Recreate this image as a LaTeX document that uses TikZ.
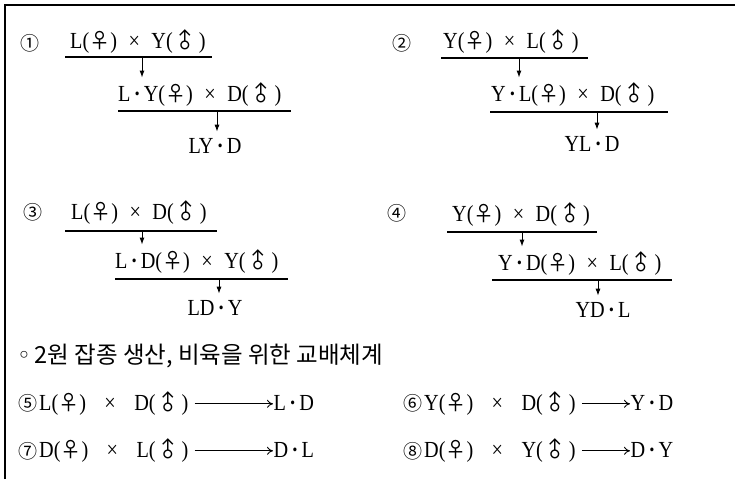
\documentclass[tikz,border=0pt]{standalone}
\usepackage{fontspec}
\setmainfont[FakeStretch=0.88]{Liberation Serif}
\newfontfamily\cjk{Noto Sans CJK KR}
\newfontfamily\symfont{DejaVu Sans}
\usetikzlibrary{arrows.meta,positioning}
\newcommand{\Fem}{{\cjk\fontsize{21}{25}\selectfont ♀}}
\newcommand{\Mal}{\makebox[26pt]{\smash{\rotatebox[origin=c]{45}{\cjk\fontsize{21}{25}\selectfont ♂}}}}
\newcommand{\mdot}{\hspace{.14em}\textbf{·}\hspace{.14em}}
\newcommand{\crs}{\hspace{.5em}×\hspace{.5em}}
\newcommand{\rowcrs}{\hspace{.8em}×\hspace{.8em}}

\begin{document}
\begin{tikzpicture}[x=1pt,y=-1pt,
    txt/.style={inner sep=1pt,anchor=base west,font=\fontsize{23}{27}\selectfont},
    res/.style={inner sep=1pt,anchor=base,font=\fontsize{23}{27}\selectfont},
    num/.style={inner sep=0pt,font=\cjk\fontsize{19}{22}\selectfont},
    bar/.style={line width=1.3pt},
    down/.style={-{Latex[length=7pt,width=5pt]},line width=1pt,shorten >=5pt},
    side/.style={-{To[length=6pt,width=8pt]},line width=0.9pt,shorten <=5pt}]
    \useasboundingbox (0,0) rectangle (735,479);
    \draw[line width=1.6pt] (5,479) -- (5,5) -- (735,5);
    % block 1
    \node[num] (n1) at (30,43) {①};
    \node[txt] (p1a) at (69,48) {L(\Fem)\crs Y(\Mal)};
    \draw[bar] (65,57) -- (212,57);
    \coordinate (a1) at (142,57);
    \node[txt] (p1b) at (117,101) {L\mdot Y(\Fem)\crs D(\Mal)};
    \draw[bar] (118,111) -- (291,111);
    \coordinate (b1) at (217,111);
    \node[res] (p1c) at (215,153) {LY\mdot D};
    \draw[down] (a1) -- (a1 |- p1b.north);
    \draw[down] (b1) -- (b1 |- p1c.north);
    % block 2
    \node[num] (n2) at (402,43) {②};
    \node[txt] (p2a) at (442,48) {Y(\Fem)\crs L(\Mal)};
    \draw[bar] (441,58) -- (588,58);
    \coordinate (a2) at (519,58);
    \node[txt] (p2b) at (490,101) {Y\mdot L(\Fem)\crs D(\Mal)};
    \draw[bar] (490,112) -- (668,112);
    \coordinate (b2) at (597,112);
    \node[res] (p2c) at (592,151) {YL\mdot D};
    \draw[down] (a2) -- (a2 |- p2b.north);
    \draw[down] (b2) -- (b2 |- p2c.north);
    % block 3
    \node[num] (n3) at (33,212) {③};
    \node[txt] (p3a) at (70,219) {L(\Fem)\crs D(\Mal)};
    \draw[bar] (65,231) -- (217,231);
    \coordinate (a3) at (142,231);
    \node[txt] (p3b) at (114,268) {L\mdot D(\Fem)\crs Y(\Mal)};
    \draw[bar] (115,279) -- (288,279);
    \coordinate (b3) at (219,279);
    \node[res] (p3c) at (215,315) {LD\mdot Y};
    \draw[down] (a3) -- (a3 |- p3b.north);
    \draw[down] (b3) -- (b3 |- p3c.north);
    % block 4
    \node[num] (n4) at (397,213) {④};
    \node[txt] (p4a) at (451,221) {Y(\Fem)\crs D(\Mal)};
    \draw[bar] (447,232) -- (597,232);
    \coordinate (a4) at (522,232);
    \node[txt] (p4b) at (497,270) {Y\mdot D(\Fem)\crs L(\Mal)};
    \draw[bar] (492,280) -- (672,280);
    \coordinate (b4) at (598,280);
    \node[res] (p4c) at (603,317) {YD\mdot L};
    \draw[down] (a4) -- (a4 |- p4b.north);
    \draw[down] (b4) -- (b4 |- p4c.north);
    % crosses for two-way hybrids
    \node[anchor=base west,inner sep=0pt,font=\cjk\fontsize{23.5}{27}\selectfont] (head) at (17,363)
      {{\symfont ◦}\hspace{.15em}2원 잡종 생산, 비육을 위한 교배체계};
    \node[num] (n5) at (28,403) {⑤};
    \node[txt] (r5) at (38,410) {L(\Fem)\rowcrs D(\Mal)};
    \node[txt,inner sep=0.5pt] (r5r) at (273,410) {L\mdot D};
    \draw[side] (r5.east) -- (r5.east -| r5r.west);
    \node[num] (n6) at (413,403) {⑥};
    \node[txt] (r6) at (423,410) {Y(\Fem)\rowcrs D(\Mal)};
    \node[txt,inner sep=0.5pt] (r6r) at (630,410) {Y\mdot D};
    \draw[side] (r6.east) -- (r6.east -| r6r.west);
    \node[num] (n7) at (28,451) {⑦};
    \node[txt] (r7) at (38,457) {D(\Fem)\rowcrs L(\Mal)};
    \node[txt,inner sep=0.5pt] (r7r) at (273,457) {D\mdot L};
    \draw[side] (r7.east) -- (r7.east -| r7r.west);
    \node[num] (n8) at (413,451) {⑧};
    \node[txt] (r8) at (423,457) {D(\Fem)\rowcrs Y(\Mal)};
    \node[txt,inner sep=0.5pt] (r8r) at (630,457) {D\mdot Y};
    \draw[side] (r8.east) -- (r8.east -| r8r.west);
\end{tikzpicture}
\end{document}
